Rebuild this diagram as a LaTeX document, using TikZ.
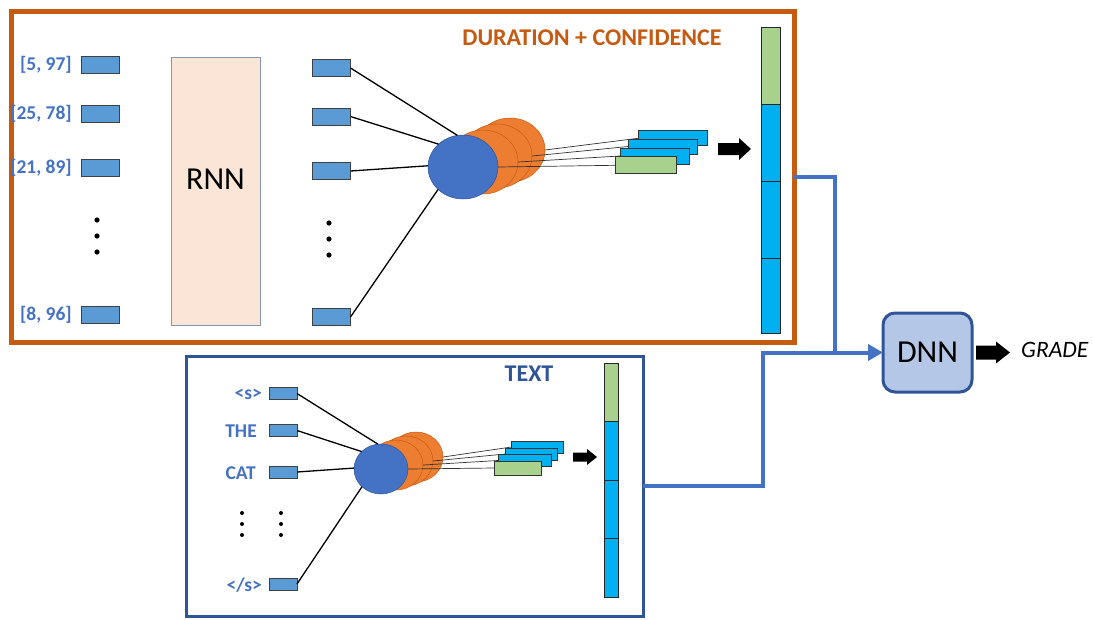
\documentclass[tikz,border=0pt]{standalone}
\usepackage{fontspec}
\setmainfont{Carlito}
\usetikzlibrary{shapes.geometric,arrows.meta}
\definecolor{orB}{HTML}{C55A11}
\definecolor{orF}{HTML}{ED7D31}
\definecolor{inblue}{HTML}{5B9BD5}
\definecolor{cyanF}{HTML}{00B0F0}
\definecolor{greenF}{HTML}{A9D18E}
\definecolor{blueC}{HTML}{4472C4}
\definecolor{darkB}{HTML}{2F5597}
\definecolor{peach}{HTML}{FBE5D6}
\definecolor{dnnF}{HTML}{B4C7E7}
\definecolor{rnnB}{HTML}{8497B0}
\begin{document}
\begin{tikzpicture}[x=1pt,y=-1pt,
  box/.style={draw, inner sep=0pt, outer sep=0pt},
  inrect/.style={box, draw=black!75, fill=inblue, line width=0.8pt},
  stk/.style={box, draw=black!80, fill=cyanF, line width=0.7pt},
  stkg/.style={box, draw=black!80, fill=greenF, line width=0.7pt},
  vseg/.style={box, draw=black!85, fill=cyanF, line width=0.7pt},
  vsegg/.style={box, draw=black!85, fill=greenF, line width=0.7pt},
  bell/.style={ellipse, draw=darkB, fill=blueC, line width=0.5pt, inner sep=0pt, outer sep=0pt},
  oell/.style={ellipse, draw=orB, fill=orF, line width=0.5pt, inner sep=0pt, outer sep=0pt},
  lbl/.style={text=blueC, font=\fontsize{19.5}{21}\selectfont\bfseries, inner sep=0pt, anchor=east},
  wire/.style={draw=black, line width=1.3pt},
  thin wire/.style={draw=black!80, line width=0.7pt},
  conn/.style={draw=blueC, line width=4pt},
  dotc/.style={fill=black}
]
\useasboundingbox (0,0) rectangle (1093,619);

% ---------- top box ----------
\node[box, draw=orB, line width=5pt, minimum width=782.5pt, minimum height=331pt] (durbox) at (402.75,177) {};
\node[text=orB, font=\fontsize{24}{26}\selectfont\bfseries] (durlbl) at (592,38) {DURATION + CONFIDENCE};

% inputs
\foreach \n/\y/\t in {1/65/{[5, 97]},2/113.5/{[25, 78]},3/168/{[21, 89]},4/314.5/{[8, 96]}}{
  \node[inrect, minimum width=38pt, minimum height=17pt] (a\n) at (100.5,\y) {};
  \node[lbl] (al\n) at (72,\y) {\t};
}
\foreach \y in {220,236,252} \fill[dotc] (97,\y) circle (2.6pt);

% RNN
\node[box, draw=rnnB, fill=peach, line width=0.8pt, minimum width=89pt, minimum height=268pt] (rnn) at (215.5,191) {};
\node[font=\fontsize{32}{34}\selectfont, inner sep=0pt] (rnnlbl) at ([yshift=12pt]rnn.center) {RNN};

% RNN outputs
\foreach \n/\y in {1/68,2/116.5,3/171,4/317}{
  \node[inrect, minimum width=38pt, minimum height=17pt] (r\n) at (331.5,\y) {};
}
\foreach \y in {223,239,255} \fill[dotc] (329,\y) circle (2.6pt);

% ellipses
\node[oell, minimum width=70pt, minimum height=64pt] (o3) at (510,150) {};
\node[oell, minimum width=70pt, minimum height=64pt] (o2) at (497,156) {};
\node[oell, minimum width=70pt, minimum height=64pt] (o1) at (483,162) {};
\node[bell, minimum width=70pt, minimum height=64pt] (b) at (463,167) {};

\draw[wire] (r1.east) -- (b.100);
\draw[wire] (r2.east) -- (b.137);
\draw[wire] (r3.east) -- (b.178);
\draw[wire] (r4.east) -- (b.222);

% stacked
\node[stk, minimum width=69pt, minimum height=15pt] (s1) at (672.5,138.3) {};
\node[stk, minimum width=69pt, minimum height=15pt] (s2) at (662.5,146.5) {};
\node[stk, minimum width=69pt, minimum height=16pt] (s3) at (654.5,156) {};
\node[stkg, minimum width=61pt, minimum height=17pt] (s4) at (645.5,165.3) {};
\draw[thin wire] (o3.east) -- (s1.west);
\draw[thin wire] (o2.east) -- (s2.west);
\draw[thin wire] (o1.east) -- (s3.west);
\draw[thin wire] (b.east) -- (s4.west);

% block arrow
\fill[black] (718,143) -- (739,143) -- (739,138) -- (751,149) -- (739,160) -- (739,155) -- (718,155) -- cycle;

% vector
\node[vsegg, minimum width=19pt, minimum height=77pt] (v1) at (770.5,65.5) {};
\node[vseg, minimum width=19pt, minimum height=77pt] (v2) at (770.5,142.5) {};
\node[vseg, minimum width=19pt, minimum height=77pt] (v3) at (770.5,219.5) {};
\node[vseg, minimum width=19pt, minimum height=75pt] (v4) at (770.5,295.5) {};

% ---------- text box ----------
\node[box, draw=darkB, line width=3pt, minimum width=456.5pt, minimum height=260.5pt] (txtbox) at (414.75,486.25) {};
\node[text=darkB, font=\fontsize{24}{26}\selectfont\bfseries, inner sep=0pt] (txtlbl) at (529,374) {TEXT};

\node[inrect, minimum width=28pt, minimum height=12pt] (t1) at (283,393.5) {};
\node[inrect, minimum width=28pt, minimum height=12pt] (t2) at (283,430.5) {};
\node[inrect, minimum width=28pt, minimum height=12pt] (t3) at (283,472) {};
\node[inrect, minimum width=28pt, minimum height=12pt] (t4) at (283,584) {};
\node[lbl] (tl1) at (262,394) {<s>};
\node[lbl] (tl2) at (257,431) {THE};
\node[lbl] (tl3) at (256,473) {CAT};
\node[lbl] (tl4) at (262,585) {</s>};
\foreach \y in {513,524,535}{\fill[dotc] (242,\y) circle (2pt); \fill[dotc] (281,\y) circle (2pt);}

\node[oell, minimum width=54pt, minimum height=50pt] (p3) at (416,457) {};
\node[oell, minimum width=54pt, minimum height=50pt] (p2) at (406,461) {};
\node[oell, minimum width=54pt, minimum height=50pt] (p1) at (396,465) {};
\node[bell, minimum width=54pt, minimum height=50pt] (c) at (381,469) {};

\draw[wire] (t1.east) -- (c.97);
\draw[wire] (t2.east) -- (c.138);
\draw[wire] (t3.east) -- (c.178);
\draw[wire] (t4.east) -- (c.223);

\node[stk, minimum width=52pt, minimum height=12pt] (u1) at (537.5,447) {};
\node[stk, minimum width=52pt, minimum height=12pt] (u2) at (531,454) {};
\node[stk, minimum width=53pt, minimum height=12.5pt] (u3) at (524.5,460.5) {};
\node[stkg, minimum width=47pt, minimum height=14pt] (u4) at (517.5,468) {};
\draw[thin wire] (p3.east) -- (u1.west);
\draw[thin wire] (p2.east) -- (u2.west);
\draw[thin wire] (p1.east) -- (u3.west);
\draw[thin wire] (c.east) -- (u4.west);

\fill[black] (573,452.5) -- (587,452.5) -- (587,449) -- (597,457) -- (587,465) -- (587,461.5) -- (573,461.5) -- cycle;

\node[vsegg, minimum width=14pt, minimum height=58pt] (w1) at (611,392) {};
\node[vseg, minimum width=14pt, minimum height=59pt] (w2) at (611,450.5) {};
\node[vseg, minimum width=14pt, minimum height=58pt] (w3) at (611,509) {};
\node[vseg, minimum width=14pt, minimum height=59pt] (w4) at (611,567.5) {};

% ---------- DNN ----------
\node[box, draw=darkB, fill=dnnF, line width=3pt, rounded corners=12pt, minimum width=89pt, minimum height=79pt, font=\fontsize{32}{34}\selectfont] (dnn) at (927.5,352.5) {DNN};
\fill[black] (976,345.5) -- (996,345.5) -- (996,341.5) -- (1010,352.5) -- (996,363.5) -- (996,359.5) -- (976,359.5) -- cycle;
\node[font=\fontsize{23.5}{25}\selectfont\itshape, inner sep=0pt, anchor=west] (grade) at (1021,350) {GRADE};

% connectors
\coordinate (jn) at (835,352.5);
\coordinate (bk) at (763,352.5);
\draw[conn] (durbox.east) -| (jn);
\draw[conn, -{Triangle[length=15pt,width=16pt]}] (txtbox.east) -| (bk) -- (dnn.west);
\end{tikzpicture}
\end{document}
